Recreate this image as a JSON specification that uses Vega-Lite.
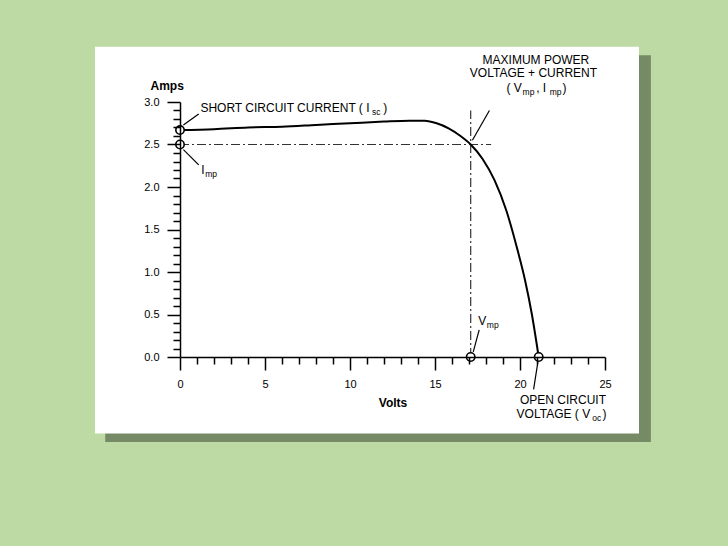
{
  "$schema": "https://vega.github.io/schema/vega-lite/v6.json",
  "width": 425,
  "height": 255,
  "padding": {"left": 95, "top": 46, "right": 77, "bottom": 105},
  "background": "#bddaa4",
  "config": {
    "view": {"stroke": null},
    "font": "Liberation Sans",
    "axis": {"labelFontSize": 11, "labelColor": "black", "labelFlush": false, "labelBound": false, "labelOverlap": false, "titleFontSize": 12, "titleFontWeight": "bold", "titleColor": "black", "domainColor": "black", "domainWidth": 1.5, "tickColor": "black", "tickWidth": 1.5, "grid": false, "labelPadding": 8}
  },
  "datasets": {
    "curve": [
      {"v": 0, "i": 2.67}, {"v": 2, "i": 2.68}, {"v": 4, "i": 2.7}, {"v": 6, "i": 2.71},
      {"v": 8, "i": 2.73}, {"v": 10, "i": 2.75}, {"v": 12, "i": 2.77}, {"v": 13.5, "i": 2.78},
      {"v": 14.4, "i": 2.78}, {"v": 15.1, "i": 2.75}, {"v": 15.8, "i": 2.69}, {"v": 16.5, "i": 2.6},
      {"v": 17.1, "i": 2.5}, {"v": 17.8, "i": 2.33}, {"v": 18.5, "i": 2.08}, {"v": 19.2, "i": 1.72},
      {"v": 19.8, "i": 1.3}, {"v": 20.3, "i": 0.9}, {"v": 20.7, "i": 0.5}, {"v": 21.1, "i": 0.0}
    ],
    "guides": [
      {"v": 0, "i": 2.5, "v2": 18.3, "i2": 2.5},
      {"v": 17.1, "i": 0, "v2": 17.1, "i2": 2.9}
    ],
    "leaders": [
      {"v": 0.2, "i": 2.73, "v2": 1.1, "i2": 2.86},
      {"v": 0.2, "i": 2.44, "v2": 1.1, "i2": 2.26},
      {"v": 17.2, "i": 2.55, "v2": 18.2, "i2": 2.9},
      {"v": 17.25, "i": 0.06, "v2": 17.6, "i2": 0.32},
      {"v": 21.05, "i": -0.06, "v2": 20.8, "i2": -0.38}
    ],
    "circles": [
      {"v": 0, "i": 2.67}, {"v": 0, "i": 2.5}, {"v": 17.1, "i": 0}, {"v": 21.1, "i": 0}
    ],
    "labels": [
      {"v": 1.2, "i": 2.93, "t": "SHORT CIRCUIT CURRENT ( I"},
      {"v": 11.95, "i": 2.93, "t": " )"},
      {"v": 1.25, "i": 2.2, "t": "I"},
      {"v": 17.8, "i": 3.5, "t": "MAXIMUM POWER"},
      {"v": 17.05, "i": 3.34, "t": "VOLTAGE + CURRENT"},
      {"v": 19.2, "i": 3.17, "t": "( V"},
      {"v": 20.95, "i": 3.17, "t": " , I"},
      {"v": 22.5, "i": 3.17, "t": " )"},
      {"v": 17.55, "i": 0.42, "t": "V"},
      {"v": 20.0, "i": -0.5, "t": "OPEN CIRCUIT"},
      {"v": 19.8, "i": -0.67, "t": "VOLTAGE ( V"},
      {"v": 24.85, "i": -0.67, "t": " )"}
    ],
    "subs": [
      {"v": 11.3, "i": 2.93, "t": "sc"},
      {"v": 1.48, "i": 2.2, "t": "mp"},
      {"v": 20.15, "i": 3.17, "t": "mp"},
      {"v": 21.75, "i": 3.17, "t": "mp"},
      {"v": 18.05, "i": 0.42, "t": "mp"},
      {"v": 24.25, "i": -0.67, "t": "oc"}
    ]
  },
  "layer": [
    {
      "data": {"values": [{}]},
      "mark": {"type": "rect", "color": "#2f3b26", "opacity": 0.5},
      "encoding": {
        "x": {"datum": -4.4, "type": "quantitative", "scale": {"domain": [0, 25], "nice": false, "zero": false},
          "axis": {"zindex": 2, "title": "Volts", "titlePadding": 8, "values": [0,1,2,3,4,5,6,7,8,9,10,11,12,13,14,15,16,17,18,19,20,21,22,23,24,25], "labelExpr": "datum.value % 5 === 0 ? datum.label : ''", "tickSize": {"condition": {"test": "datum.value % 5 === 0", "value": 13}, "value": 7}}},
        "x2": {"datum": 27.7},
        "y": {"datum": -1.0, "type": "quantitative", "scale": {"domain": [0, 3], "nice": false, "zero": false},
          "axis": {"zindex": 2, "title": "Amps", "values": [0,0.1,0.2,0.3,0.4,0.5,0.6,0.7,0.8,0.9,1,1.1,1.2,1.3,1.4,1.5,1.6,1.7,1.8,1.9,2,2.1,2.2,2.3,2.4,2.5,2.6,2.7,2.8,2.9,3], "format": ".1f", "labelExpr": "abs(datum.value*2 - round(datum.value*2)) < 0.001 ? datum.label : ''", "tickSize": {"condition": {"test": "abs(datum.value*2 - round(datum.value*2)) < 0.001", "value": 13}, "value": 7}, "titleAngle": 0, "titleAnchor": "end", "titleAlign": "left", "titleBaseline": "bottom", "titleX": -30, "titleY": -10}},
        "y2": {"datum": 3.55}
      }
    },
    {
      "data": {"values": [{}]},
      "mark": {"type": "rect", "color": "white"},
      "encoding": {
        "x": {"datum": -5, "type": "quantitative", "scale": {"domain": [0, 25], "nice": false, "zero": false},
          "axis": {"zindex": 2, "title": "Volts", "titlePadding": 8, "values": [0,1,2,3,4,5,6,7,8,9,10,11,12,13,14,15,16,17,18,19,20,21,22,23,24,25], "labelExpr": "datum.value % 5 === 0 ? datum.label : ''", "tickSize": {"condition": {"test": "datum.value % 5 === 0", "value": 13}, "value": 7}}},
        "x2": {"datum": 27},
        "y": {"datum": -0.9, "type": "quantitative", "scale": {"domain": [0, 3], "nice": false, "zero": false},
          "axis": {"zindex": 2, "title": "Amps", "values": [0,0.1,0.2,0.3,0.4,0.5,0.6,0.7,0.8,0.9,1,1.1,1.2,1.3,1.4,1.5,1.6,1.7,1.8,1.9,2,2.1,2.2,2.3,2.4,2.5,2.6,2.7,2.8,2.9,3], "format": ".1f", "labelExpr": "abs(datum.value*2 - round(datum.value*2)) < 0.001 ? datum.label : ''", "tickSize": {"condition": {"test": "abs(datum.value*2 - round(datum.value*2)) < 0.001", "value": 13}, "value": 7}, "titleAngle": 0, "titleAnchor": "end", "titleAlign": "left", "titleBaseline": "bottom", "titleX": -30, "titleY": -10}},
        "y2": {"datum": 3.65}
      }
    },
    {
      "encoding": {
        "x": {"field": "v", "type": "quantitative", "scale": {"domain": [0, 25], "nice": false, "zero": false},
          "axis": {"zindex": 2, "title": "Volts", "titlePadding": 8, "values": [0,1,2,3,4,5,6,7,8,9,10,11,12,13,14,15,16,17,18,19,20,21,22,23,24,25], "labelExpr": "datum.value % 5 === 0 ? datum.label : ''", "tickSize": {"condition": {"test": "datum.value % 5 === 0", "value": 13}, "value": 7}}},
        "y": {"field": "i", "type": "quantitative", "scale": {"domain": [0, 3], "nice": false, "zero": false},
          "axis": {"zindex": 2, "title": "Amps", "values": [0,0.1,0.2,0.3,0.4,0.5,0.6,0.7,0.8,0.9,1,1.1,1.2,1.3,1.4,1.5,1.6,1.7,1.8,1.9,2,2.1,2.2,2.3,2.4,2.5,2.6,2.7,2.8,2.9,3], "format": ".1f", "labelExpr": "abs(datum.value*2 - round(datum.value*2)) < 0.001 ? datum.label : ''", "tickSize": {"condition": {"test": "abs(datum.value*2 - round(datum.value*2)) < 0.001", "value": 13}, "value": 7}, "titleAngle": 0, "titleAnchor": "end", "titleAlign": "left", "titleBaseline": "bottom", "titleX": -30, "titleY": -10}}
      },
      "layer": [
        {
          "data": {"name": "guides"},
          "mark": {"type": "rule", "color": "#333", "strokeWidth": 1.2, "strokeDash": [9, 3, 2, 3]},
          "encoding": {"x2": {"field": "v2"}, "y2": {"field": "i2"}}
        },
        {
          "data": {"name": "curve"},
          "mark": {"type": "line", "color": "black", "strokeWidth": 2, "interpolate": "monotone"},
          "encoding": {}
        },
        {
          "data": {"name": "leaders"},
          "mark": {"type": "rule", "color": "black", "strokeWidth": 1.2},
          "encoding": {"x2": {"field": "v2"}, "y2": {"field": "i2"}}
        },
        {
          "data": {"name": "circles"},
          "mark": {"type": "point", "shape": "circle", "filled": true, "fill": "white", "stroke": "black", "strokeWidth": 1.6, "size": 70, "opacity": 1}
        },
        {
          "data": {"name": "labels"},
          "mark": {"type": "text", "align": "left", "baseline": "middle", "fontSize": 12, "color": "black"},
          "encoding": {"text": {"field": "t"}}
        },
        {
          "data": {"name": "subs"},
          "mark": {"type": "text", "align": "left", "baseline": "middle", "fontSize": 8.5, "dy": 4, "color": "black"},
          "encoding": {"text": {"field": "t"}}
        }
      ]
    }
  ]
}
